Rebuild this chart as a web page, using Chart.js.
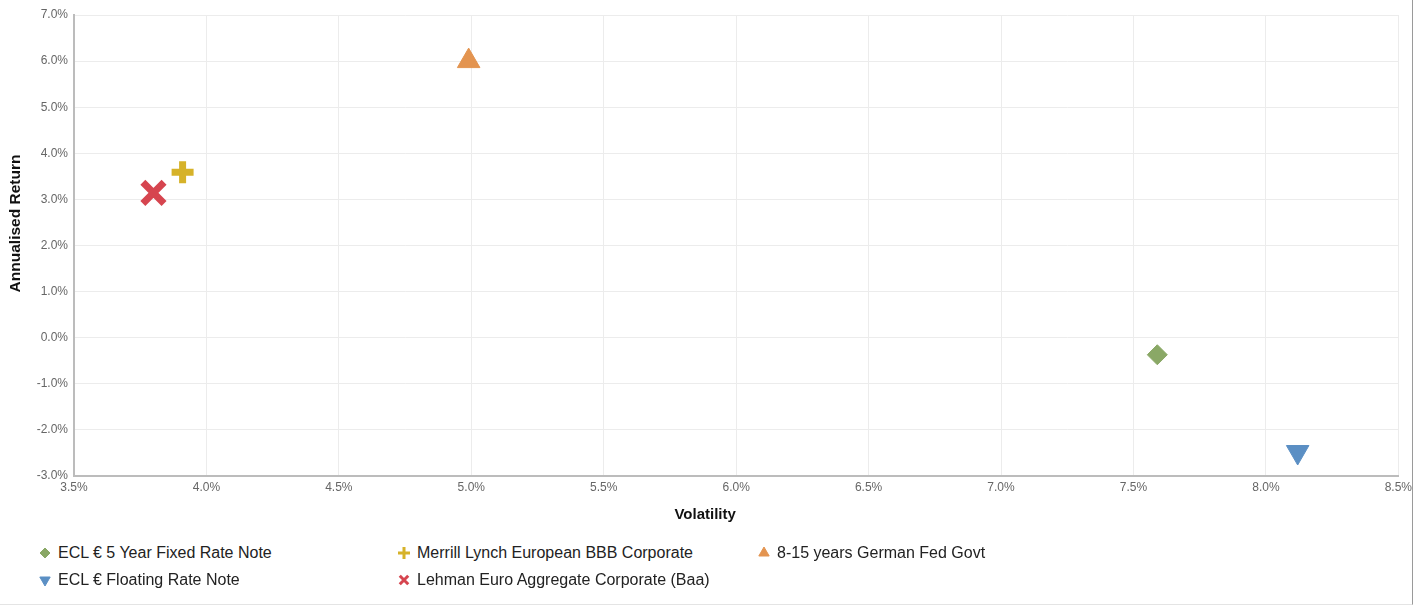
<!DOCTYPE html>
<html>
<head>
<meta charset="utf-8">
<script src="https://cdn.jsdelivr.net/npm/chart.js@4/dist/chart.umd.min.js"></script>
<style>
  html, body { margin: 0; padding: 0; background: #fff; }
  body { width: 1426px; height: 606px; overflow: hidden; font-family: "Liberation Sans", Arial, sans-serif; }
  #frame { position: absolute; left: 0; top: 0; width: 1412px; height: 604px; border-right: 1px solid #9a9a9a; border-bottom: 1px solid #e4e4e4; overflow: hidden; }
  #wrap { position: absolute; left: 0; top: 0; width: 1416px; height: 530px; }
  #legend { position: absolute; left: 38px; top: 539px; display: grid; grid-template-columns: 359px 360px 300px; row-gap: 0; }
  .item { height: 27px; display: flex; align-items: center; font-size: 16px; color: #222; white-space: nowrap; }
  .item canvas { width: 14px; height: 14px; margin-right: 6px; }
</style>
</head>
<body>
<div id="frame">
  <div id="wrap"><canvas id="chart"></canvas></div>
  <div id="legend"></div>
</div>
<script>
// series names, in legend order (row by row)
const names = [
  'ECL € 5 Year Fixed Rate Note',
  'Merrill Lynch European BBB Corporate',
  '8-15 years German Fed Govt',
  'ECL € Floating Rate Note',
  'Lehman Euro Aggregate Corporate (Baa)'
];
// volatility (%) and annualised return (%) per series
const volatility = [7.59, 3.91, 4.99, 8.12, 3.80];
const annualReturn = [-0.37, 3.59, 6.0, -2.48, 3.14];

const colors = ['#8aa866', '#d6b229', '#e39450', '#5b8fc4', '#d6454f'];
const styles = ['rectRot', 'cross', 'triangle', 'triangle', 'crossRot'];
const rotations = [0, 0, 0, 180, 0];
const radii = [10, 11, 13, 13, 15];
const borders = [1, 7, 1, 1, 7];

const datasets = names.map((n, i) => ({
  label: n,
  data: [{ x: volatility[i], y: annualReturn[i] }],
  pointStyle: styles[i],
  rotation: rotations[i],
  pointRadius: radii[i],
  pointHoverRadius: radii[i],
  backgroundColor: colors[i],
  borderColor: colors[i],
  borderWidth: borders[i]
}));

const tickFont = { family: 'Liberation Sans', size: 12 };

// axis titles sit a bit off-centre in the original, so draw them by hand
const axisTitles = {
  id: 'axisTitles',
  afterDraw(chart) {
    const { ctx, chartArea: a } = chart;
    ctx.save();
    ctx.fillStyle = '#111';
    ctx.font = 'bold 15px "Liberation Sans"';
    ctx.textAlign = 'center';
    ctx.textBaseline = 'middle';
    ctx.fillText('Volatility', (a.left + a.right) / 2 - 31, 515);
    ctx.translate(16, (a.top + a.bottom) / 2 - 22);
    ctx.rotate(-Math.PI / 2);
    ctx.font = 'bold 15.5px "Liberation Sans"';
    ctx.fillText('Annualised Return', 0, 0);
    ctx.restore();
  }
};

new Chart(document.getElementById('chart'), {
  type: 'scatter',
  data: { datasets },
  plugins: [axisTitles],
  options: {
    responsive: true,
    maintainAspectRatio: false,
    animation: false,
    layout: { autoPadding: false, padding: { top: 15, right: 10, left: 0, bottom: 0 } },
    plugins: { legend: { display: false }, tooltip: { enabled: false } },
    scales: {
      x: {
        min: 3.5, max: 8.5,
        ticks: { stepSize: 0.5, color: '#666', font: tickFont, padding: 4,
          callback: v => v.toFixed(1) + '%' },
        grid: { color: '#ececec', drawTicks: false },
        border: { color: '#bcbcbc', width: 2 },
        afterFit: s => { s.height = 54; }
      },
      y: {
        min: -3, max: 7,
        ticks: { stepSize: 1, color: '#666', font: tickFont, padding: 6,
          callback: v => v.toFixed(1) + '%' },
        grid: { color: '#ececec', drawTicks: false },
        border: { color: '#bcbcbc', width: 2 },
        afterFit: s => { s.width = 74; }
      }
    }
  }
});

// legend in three columns, symbols drawn with Chart.js point helper
const legend = document.getElementById('legend');
const legendRadius = [5, 6, 6, 6, 6];
const legendBorder = [1, 3, 1, 1, 3];
names.forEach((n, i) => {
  const item = document.createElement('div');
  item.className = 'item';
  const c = document.createElement('canvas');
  c.width = 14; c.height = 14;
  const ctx = c.getContext('2d');
  ctx.fillStyle = colors[i];
  ctx.strokeStyle = colors[i];
  ctx.lineWidth = legendBorder[i];
  Chart.helpers.drawPoint(ctx, { pointStyle: styles[i], rotation: rotations[i], radius: legendRadius[i], borderWidth: legendBorder[i] }, 7, 7);
  item.appendChild(c);
  item.appendChild(document.createTextNode(n));
  legend.appendChild(item);
});
</script>
</body>
</html>
